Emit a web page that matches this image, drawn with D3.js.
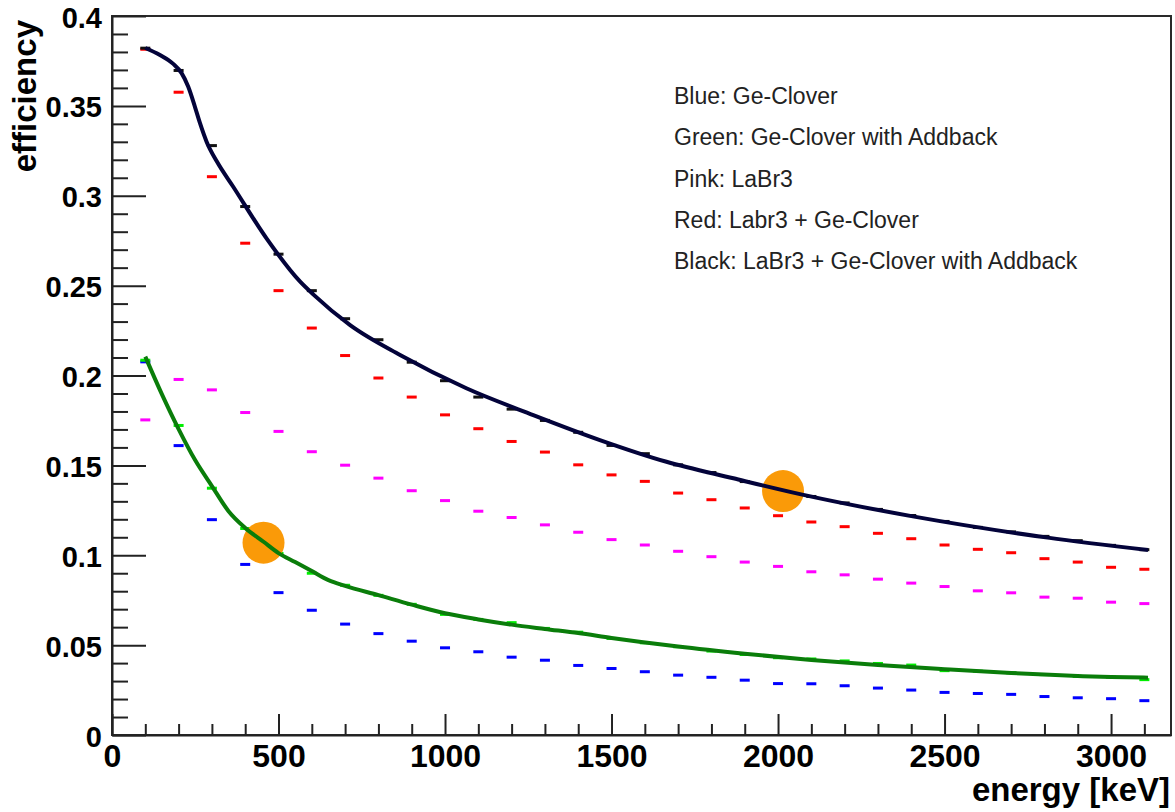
<!DOCTYPE html>
<html>
<head>
<meta charset="utf-8">
<script src="https://cdn.jsdelivr.net/npm/d3@7"></script>
<style>
  html, body { margin: 0; padding: 0; background: #fff; }
  svg { display: block; }
</style>
</head>
<body>
<svg id="chart" width="1175" height="812"></svg>
<script>
// ---- data ----
const energies = [100,200,300,400,500,600,700,800,900,1000,1100,1200,1300,1400,1500,1600,1700,1800,1900,2000,2100,2200,2300,2400,2500,2600,2700,2800,2900,3000,3100];

const blueGeClover = [0.2076,0.161,0.1198,0.0949,0.0792,0.0694,0.0617,0.0564,0.0522,0.0485,0.0463,0.0433,0.0416,0.0387,0.037,0.0352,0.0333,0.0321,0.0305,0.0286,0.0285,0.0274,0.0261,0.025,0.0237,0.0231,0.0226,0.0214,0.0207,0.0202,0.0191];
const greenAddback = [0.2085,0.1722,0.1373,0.1149,0.101,0.0900,0.0833,0.0777,0.0727,0.0671,0.0643,0.0625,0.0593,0.0572,0.0537,0.0513,0.0491,0.0467,0.0448,0.043,0.0423,0.0412,0.0398,0.0389,0.0358,0.0355,0.0346,0.0336,0.0326,0.0322,0.0308];
const pinkLaBr3 = [0.1753,0.1978,0.192,0.1794,0.1689,0.1576,0.1501,0.1429,0.1359,0.1304,0.1245,0.121,0.1169,0.1128,0.1087,0.1057,0.1022,0.0992,0.0962,0.0938,0.0908,0.0891,0.0867,0.0845,0.0826,0.0802,0.0791,0.0767,0.0761,0.0739,0.0731];
const redLaBr3Ge = [0.3815,0.3576,0.3106,0.2736,0.2472,0.2264,0.2111,0.1986,0.188,0.1781,0.1704,0.1633,0.1574,0.1503,0.1447,0.1411,0.1346,0.1309,0.1263,0.122,0.1185,0.1159,0.1122,0.1092,0.1057,0.1033,0.1014,0.0981,0.0962,0.0933,0.0922];
const blackLaBr3GeAddback = [0.3821,0.3697,0.3279,0.2940,0.2675,0.2472,0.2316,0.2199,0.2074,0.1971,0.1880,0.1813,0.1750,0.1684,0.1611,0.1565,0.1503,0.1460,0.1410,0.1365,0.1327,0.1291,0.1255,0.1221,0.1188,0.1155,0.1130,0.1105,0.1081,0.1055,0.1031];

// fitted curves
const blackFitE = [100,144,183,209,229,249,264,284,315,364,465,565,605,715,865,1064,1265,1465,1665,1866,2066,2409,2810,3111];
const blackFitV = [0.3822,0.3783,0.3735,0.3682,0.3606,0.3495,0.3405,0.3301,0.319,0.305,0.276,0.2522,0.245,0.228,0.2114,0.1929,0.178,0.1641,0.152,0.1428,0.134,0.1215,0.1098,0.1029];
const greenFitE = [100,150,200,250,300,350,400,455,500,550,600,650,700,800,900,1000,1100,1200,1300,1400,1500,1700,1900,2100,2300,2500,2700,2900,3000,3111];
const greenFitV = [0.2105,0.1895,0.1702,0.1528,0.1385,0.1245,0.1152,0.1075,0.1012,0.0962,0.0912,0.0862,0.0830,0.0778,0.0725,0.0677,0.0643,0.0614,0.0590,0.0567,0.0540,0.0492,0.0452,0.0417,0.0389,0.0366,0.0345,0.0328,0.0322,0.0319];

// highlighted points (orange circles)
const highlightE = [455, 2015];
const highlightV = [0.107, 0.1357];

// axis ticks
const xTickValues = [0,500,1000,1500,2000,2500,3000];
const xTickLabels = ["0","500","1000","1500","2000","2500","3000"];
const yTickValues = [0,0.05,0.1,0.15,0.2,0.25,0.3,0.35,0.4];
const yTickLabels = ["0","0.05","0.1","0.15","0.2","0.25","0.3","0.35","0.4"];

const legendLines = ["Blue: Ge-Clover","Green: Ge-Clover with Addback","Pink: LaBr3","Red: Labr3 + Ge-Clover","Black: LaBr3 + Ge-Clover with Addback"];

const xTitle = "energy [keV]";
const yTitle = "efficiency";

// ---- drawing ----
const svg = d3.select("#chart");
const L = 112, R = 1171, T = 16, B = 735;
const x = d3.scaleLinear().domain([0, 3180]).range([L, R]);
const y = d3.scaleLinear().domain([0, 0.4]).range([B, T]);

const FONT = "'Liberation Sans', Arial, Helvetica, sans-serif";

// frame
svg.append("rect").attr("x", L).attr("y", T).attr("width", R - L).attr("height", B - T)
  .attr("fill", "none").attr("stroke", "#2a2a2a").attr("stroke-width", 2);

// minor ticks
const xMinor = d3.range(0, 3180, 100).filter(v => v % 500 !== 0);
svg.append("g").attr("transform", `translate(0,${B})`)
  .call(d3.axisBottom(x).tickValues(xMinor).tickSizeInner(-11).tickSizeOuter(0).tickFormat(""))
  .call(g => g.select(".domain").remove())
  .call(g => g.selectAll("line").attr("stroke", "#222").attr("stroke-width", 2));
const yMinor = d3.range(0, 41).map(i => i / 100).filter((v, i) => i % 5 !== 0);
svg.append("g").attr("transform", `translate(${L},0)`)
  .call(d3.axisLeft(y).tickValues(yMinor).tickSizeInner(-16).tickSizeOuter(0).tickFormat(""))
  .call(g => g.select(".domain").remove())
  .call(g => g.selectAll("line").attr("stroke", "#222").attr("stroke-width", 2));

// major x axis
svg.append("g").attr("transform", `translate(0,${B})`)
  .call(d3.axisBottom(x).tickValues(xTickValues).tickSizeInner(-21).tickSizeOuter(0).tickPadding(9)
    .tickFormat((d, i) => xTickLabels[i]))
  .call(g => g.select(".domain").attr("stroke", "#222").attr("stroke-width", 2))
  .call(g => g.selectAll("line").attr("stroke", "#222").attr("stroke-width", 2))
  .call(g => g.selectAll("text").attr("font-family", FONT).attr("font-weight", "bold")
    .attr("font-size", 32).attr("fill", "#000"));

// major y axis
svg.append("g").attr("transform", `translate(${L},0)`)
  .call(d3.axisLeft(y).tickValues(yTickValues).tickSizeInner(-34).tickSizeOuter(0).tickPadding(10)
    .tickFormat((d, i) => yTickLabels[i]))
  .call(g => g.select(".domain").attr("stroke", "#222").attr("stroke-width", 2))
  .call(g => g.selectAll("line").attr("stroke", "#222").attr("stroke-width", 2))
  .call(g => g.selectAll("text").attr("font-family", FONT).attr("font-weight", "bold")
    .attr("font-size", 29).attr("fill", "#000").attr("dy", "0.38em"));

// axis titles
svg.append("text").attr("x", 1170).attr("y", 801).attr("text-anchor", "end")
  .attr("font-family", FONT).attr("font-weight", "bold").attr("font-size", 33).attr("fill", "#000")
  .text(xTitle);
svg.append("text").attr("transform", "translate(36,20) rotate(-90)").attr("text-anchor", "end")
  .attr("font-family", FONT).attr("font-weight", "bold").attr("font-size", 33).attr("fill", "#000")
  .text(yTitle);

// markers
const series = [
  { vals: pinkLaBr3, color: "#ff00ff" },
  { vals: redLaBr3Ge, color: "#ff0000" },
  { vals: blueGeClover, color: "#0000ff" },
  { vals: greenAddback, color: "#00ee00" },
  { vals: blackLaBr3GeAddback, color: "#111111" }
];
series.forEach(s => {
  svg.append("g").selectAll("rect").data(energies.map((e, i) => [e, s.vals[i]])).join("rect")
    .attr("x", d => x(d[0]) - 5).attr("y", d => y(d[1]) - 1.5)
    .attr("width", 10).attr("height", 3).attr("fill", s.color);
});

// orange highlight circles
svg.append("g").selectAll("circle").data(highlightE.map((e, i) => [e, highlightV[i]])).join("circle")
  .attr("cx", d => x(d[0])).attr("cy", d => y(d[1])).attr("r", 21).attr("fill", "#fa9a08");

// fit lines
const line = d3.line().x(d => x(d[0])).y(d => y(d[1])).curve(d3.curveMonotoneX);
svg.append("path").datum(greenFitE.map((e, i) => [e, greenFitV[i]]))
  .attr("d", line).attr("fill", "none").attr("stroke", "#0a7d0a").attr("stroke-width", 4);
svg.append("path").datum(blackFitE.map((e, i) => [e, blackFitV[i]]))
  .attr("d", line).attr("fill", "none").attr("stroke", "#03033a").attr("stroke-width", 4);

// legend text
svg.append("g").selectAll("text").data(legendLines).join("text")
  .attr("x", 674).attr("y", (d, i) => 104 + i * 41.3)
  .attr("font-family", FONT).attr("font-size", 23).attr("fill", "#222")
  .text(d => d);
</script>
</body>
</html>
